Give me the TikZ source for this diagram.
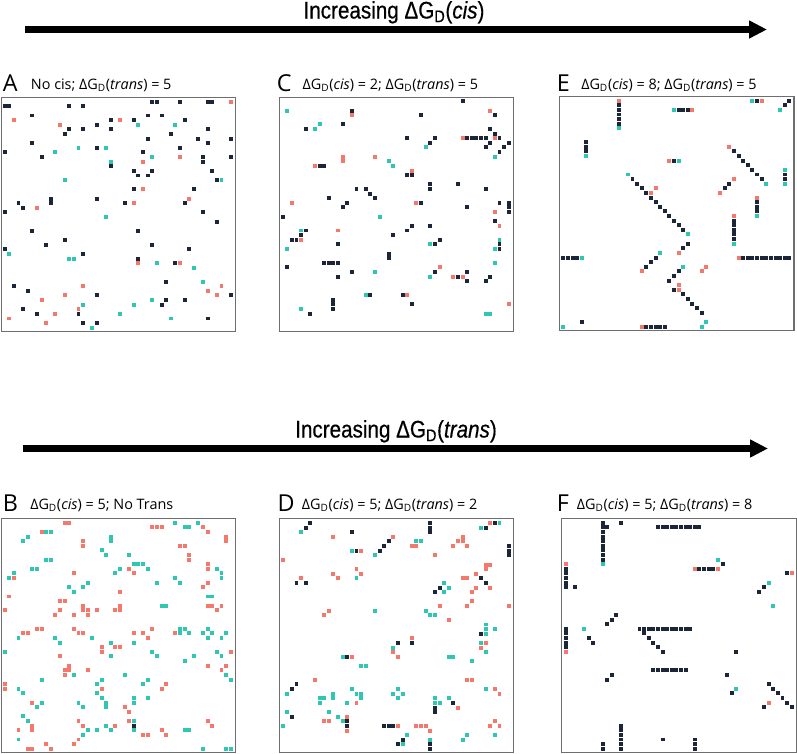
\documentclass[tikz,border=0pt]{standalone}
\usepackage{fontspec}
\setmainfont{Open Sans}
\newfontfamily\titlefont[FakeStretch=0.86,FakeBold=0.5]{Liberation Sans}
\usetikzlibrary{arrows.meta,positioning}

\definecolor{navy}{HTML}{1D2639}
\definecolor{salmon}{HTML}{F4796C}
\definecolor{aqua}{HTML}{2FC6B2}
\definecolor{frame}{HTML}{6E6E6E}

\newcommand{\dG}{ΔG\textsubscript{D}}
% one square per lattice site, list of col/row
\newcommand{\fillcells}[2]{\foreach \c/\r in {#2} \fill[#1] (\c-0.43,\r-0.43) rectangle ++(0.86,0.86);}

\begin{document}
\begin{tikzpicture}[x=0.75pt,y=-0.75pt,
		panletter/.style={inner sep=0pt, anchor=base west, font=\fontsize{17.5}{19}\selectfont},
		pantext/.style={inner sep=0pt, anchor=base west, font=\fontsize{10.8}{12}\selectfont},
		axistitle/.style={inner sep=0pt, anchor=base, font=\titlefont\fontsize{18}{20}\selectfont},
		bigarrow/.style={line width=4.9pt, -{Triangle[length=13.5pt,width=12.75pt]}},
		lattice/.style={x=3.46pt, y=-3.46pt},
		latbox/.style={draw=frame, line width=0.8pt}
	]
	\useasboundingbox (0,0) rectangle (797,754);

	% arrows
	\node[axistitle] (cistitle) at (394,18.5) {Increasing \dG(\textit{cis})};
	\coordinate (cisL) at (25,29.5);
	\coordinate (cisR) at (767,29.5);
	\draw[bigarrow] (cisL) -- (cisR);

	\node[axistitle] (transtitle) at (396,437.5) {Increasing \dG(\textit{trans})};
	\coordinate (transL) at (23,448.5);
	\coordinate (transR) at (768,448.5);
	\draw[bigarrow] (transL) -- (transR);

	% panel labels
	\node[panletter] (letA) at (2.7,91) {A};
	\node[pantext] (txtA) at (30.7,89.3) {No cis; \dG(\textit{trans}) = 5};
	\node[panletter] (letC) at (276.7,91) {C};
	\node[pantext] (txtC) at (302.3,89.3) {\dG(\textit{cis}) = 2; \dG(\textit{trans}) = 5};
	\node[panletter] (letE) at (556.5,91) {E};
	\node[pantext] (txtE) at (581,89.3) {\dG(\textit{cis}) = 8; \dG(\textit{trans}) = 5};
	\node[panletter] (letB) at (2.7,511.5) {B};
	\node[pantext] (txtB) at (30,509.8) {\dG(\textit{cis}) = 5; No Trans};
	\node[panletter] (letD) at (277.3,511.5) {D};
	\node[pantext] (txtD) at (301.7,509.8) {\dG(\textit{cis}) = 5; \dG(\textit{trans}) = 2};
	\node[panletter] (letF) at (556.7,511.5) {F};
	\node[pantext] (txtF) at (576.7,509.8) {\dG(\textit{cis}) = 5; \dG(\textit{trans}) = 8};

	% A
	\begin{scope}[shift={(4.67,101.67)}, lattice]
		\draw[latbox] (-0.7,-0.9) rectangle (50.05,49.9);
		\fillcells{navy}{32/0,33/0,38/0,44/0,45/0, 0/1,1/1,14/1,17/1, 6/3,31/3,34/3, 23/4,28/4,39/4, 20/5, 14/6,17/6,23/6,44/6, 13/7,36/7, 31/8,42/8,49/8, 6/9,44/9, 20/10,38/10, 0/11,30/11, 8/12,43/12,49/12, 43/13, 23/14, 28/15,32/15,45/15, 29/16,31/16, 46/17, 28/19,41/19, 10/21,20/21, 3/22,10/22,26/22,39/22, 4/23, 0/24,43/24, 46/26, 6/28,29/28, 13/30, 9/31,32/31, 0/32,40/32, 17/33, 29/34, 37/35, 35/39, 2/40, 5/41, 20/42,49/42, 35/43,39/43, 34/44, 4/45, 7/46,16/46, 44/47, 17/48,20/48}
		\fillcells{salmon}{49/0, 2/4,25/4, 12/5, 38/12, 30/13, 30/19, 40/21, 28/22, 7/23, 29/35,38/35, 17/40,47/40, 44/41, 13/42,46/42, 8/43, 16/45, 11/46, 1/47, 9/48}
		\fillcells{aqua}{29/5,37/5, 16/10,22/10, 11/11, 32/12, 23/13, 13/17,47/17, 22/25, 1/33, 14/34,15/34, 33/35, 41/36, 43/39, 32/43, 17/44,28/44, 25/46, 36/47, 19/49}
	\end{scope}

	% C
	\begin{scope}[shift={(282.67,101.33)}, lattice]
		\draw[latbox] (-0.7,-0.9) rectangle (50.05,49.9);
		\fillcells{navy}{39/0, 15/2, 30/3,46/3, 13/5, 5/6,45/6, 46/7, 27/8,33/8,40/8,41/8,42/8,43/8,44/8,47/8, 32/9,45/9,49/9, 44/10,48/10, 47/11, 8/14,9/14, 27/16,28/16, 32/18,38/18, 16/19,18/19,32/19,44/19, 19/20, 10/21,20/21, 14/22,30/22,47/22,49/22, 13/23,40/23,49/23, 49/24, 0/25, 46/26, 28/27,32/27, 5/28,27/28, 4/29,24/29, 2/30,3/30,34/30, 12/31,33/31,47/31, 47/32, 23/33, 23/34, 9/35,10/35,11/35,12/35, 1/36, 15/37,33/37,40/37, 12/38,38/38,45/38, 40/39,44/39, 19/42,26/42, 11/43, 11/44,28/44, 11/45, 6/46}
		\fillcells{salmon}{45/2, 15/3, 39/8,46/8, 13/12,20/12, 13/13, 7/14, 28/15, 2/22,29/22, 46/24, 47/27, 12/28, 4/30, 34/36, 37/38,39/38, 27/42, 49/44}
		\fillcells{aqua}{1/2, 8/5, 7/6, 31/10, 46/12, 23/13, 24/14, 21/25, 4/28, 47/30, 32/31, 1/32,46/32, 46/35, 20/37, 32/38, 18/42, 4/45, 44/46,45/46}
	\end{scope}

	% E
	\begin{scope}[shift={(563.3,100.67)}, lattice]
		\draw[latbox] (-0.9,-0.9) rectangle (50.0,49.9);
		\fillcells{navy}{42/0,49/0, 12/1,48/1, 12/2,25/2,26/2,27/2, 12/3,12/4,12/5, 5/9,5/10,5/11, 37/11, 38/12, 24/13,39/13, 40/14, 41/15, 42/16,48/16, 15/17,43/17,48/17, 16/18,36/18, 17/19,35/19, 18/20, 19/21, 20/22,42/22, 21/23,42/23, 22/24,42/24, 23/25, 24/26,37/26, 25/27,37/27, 26/28,37/28, 37/29, 37/30, 27/31, 26/32, 0/34,1/34,2/34,3/34,20/34, 39/34,40/34,41/34,42/34,43/34,44/34,45/34,46/34,47/34,48/34,49/34, 19/35, 18/36, 25/37, 24/38, 23/39, 24/41, 26/42, 27/43, 28/44, 29/45, 30/46, 4/48, 18/49,19/49,20/49,21/49,22/49}
		\fillcells{salmon}{12/0, 43/0, 28/2, 36/10, 23/13, 37/17, 20/19, 19/20, 34/20, 42/21, 37/25, 25/33, 38/34, 31/36, 17/37, 30/37, 25/40, 25/41, 17/49}
		\fillcells{aqua}{41/0, 24/2, 47/2, 12/6, 5/12, 25/13, 48/15, 14/16, 44/18, 48/18, 42/25, 27/29, 37/31, 21/33, 4/34, 26/36, 31/48, 0/49, 30/49}
	\end{scope}

	% B
	\begin{scope}[shift={(4.67,522.67)}, lattice]
		\draw[latbox] (-0.7,-0.9) rectangle (50.05,49.9);
		\fillcells{salmon}{13/0,14/0, 32/1,33/1,34/1,43/1, 8/2,44/2, 48/3, 17/4,48/4, 17/5,38/5,39/5, 40/7, 40/8, 44/9, 27/10,44/10, 15/11,28/11, 2/12, 44/13, 43/14, 25/15, 1/16, 12/17,13/17, 17/18,25/18,44/18,45/18,47/18, 0/19,12/19,17/19,18/19,20/19,24/19,25/19,46/19, 11/20,15/20,18/20, 7/23,8/23,15/23,32/23, 4/24,5/24,16/24,17/24,28/24,30/24,37/24, 31/25, 21/27,24/27,25/27, 21/28,49/28, 12/29, 14/31,44/31,48/31, 13/32,14/32,18/32,47/32, 13/33, 0/35,35/35, 0/36,21/36,34/36, 6/39, 26/40, 27/41, 16/43,27/43,44/43, 6/44,17/44,24/44,45/44, 3/45,6/45,34/45, 30/46,31/46,35/46, 16/47, 9/48,15/48, 5/49,6/49,10/49}
		\fillcells{aqua}{37/0,42/0, 39/1,40/1, 9/2,10/2, 5/3,23/3, 4/4,23/4, 21/6, 22/7,27/7, 9/8,10/8, 28/9,29/9,30/9, 6/10,7/10,25/10,31/10,46/10, 2/11,24/11,47/11, 1/12,37/12,47/12, 18/13,33/13,38/13, 14/14,17/14, 15/15, 44/16,45/16, 34/18,35/18, 38/23,39/23,44/23, 38/24,40/24,43/24,45/24,48/24, 3/25,11/25,19/25,44/25,47/25, 12/26,23/26,28/26, 0/28,32/28,46/28, 23/29,33/29,41/29,47/29, 39/30, 15/33,26/33,48/33, 8/34,21/34,31/34,49/34, 20/35,30/35, 3/36, 4/37,20/37, 21/38,28/38,31/38, 8/39,16/39,22/39,28/39, 7/40,17/40,22/40, 4/42, 5/43,28/43, 22/44, 18/45,20/45,23/45,28/45,39/45,40/45, 17/46, 3/47, 43/49,48/49,49/49}
		\fillcells{navy}{28/44}
	\end{scope}

	% D
	\begin{scope}[shift={(282.67,523)}, lattice]
		\draw[latbox] (-0.7,-0.9) rectangle (50.0,49.8);
		\fillcells{navy}{6/0,32/0,46/0, 5/1,32/1,44/1, 15/2,32/2, 23/4, 22/5,49/5, 16/6,21/6,49/6, 49/7, 43/12, 3/13,5/13,44/13, 34/14, 33/15, 43/24, 25/26,28/26, 14/29, 3/35, 2/36, 37/39, 33/40, 33/41, 2/42, 14/43, 14/44,22/44,23/44,24/44, 26/47, 25/48,32/48, 32/49}
		\fillcells{salmon}{45/0, 11/3,24/3,39/3, 38/4,39/4, 28/5,29/5,37/5,40/5, 17/6, 33/7, 0/8, 44/9,45/9, 16/10,44/10, 11/11,17/11,42/11, 4/12,12/12,39/12,40/12, 42/14,45/14, 41/15, 41/17, 34/18,40/18,49/18, 10/19, 9/20, 36/21, 28/25, 44/26, 43/27, 24/28, 15/29,25/29, 7/34,40/34,41/34, 46/36, 47/37, 16/39, 38/40, 14/42, 9/43,10/43,46/43, 25/44,29/44,30/44,31/44,45/44,47/44, 14/45,32/45}
		\fillcells{aqua}{47/0, 43/1, 4/2, 29/4,30/4, 15/6, 20/7, 16/12, 35/13, 36/14, 35/15, 20/19,31/19, 32/20,33/20, 44/22, 44/23,46/23, 44/24, 43/26, 24/27, 44/28, 13/29,36/29,37/29, 41/30, 17/31,18/31, 15/36,25/36,44/36, 1/37,11/37,16/37,17/37,24/37,26/37, 8/38,9/38,11/38,17/38,25/38,33/38,36/38, 8/39,14/39,33/39,34/39, 1/41,10/41, 12/42, 13/43, 0/44, 27/46,40/46,46/46, 32/47,39/47, 26/48}
	\end{scope}

	% F
	\begin{scope}[shift={(565.67,522.67)}, lattice]
		\draw[latbox] (-0.85,-0.9) rectangle (50.0,49.9);
		\fillcells{navy}{8/0,8/1,8/2,8/3,8/4,8/5,8/6,8/7,8/8, 9/1, 12/0, 20/1,21/1,22/1,23/1,24/1,25/1,26/1,27/1,28/1,29/1, 34/9, 29/10,30/10,31/10,32/10, 0/10,0/11,0/12,0/13,0/14, 48/11, 2/14,43/14, 42/15, 11/20, 10/21, 9/22, 0/23,0/24,0/25,0/26,0/27, 16/23,17/23,18/23,19/23,20/23,21/23,22/23,23/23,24/23,25/23,26/23,27/23, 17/24, 5/25,18/25, 6/26,19/26, 20/27, 21/28,37/28, 19/32,20/32,21/32,22/32,23/32,24/32,25/32,26/32, 10/33,35/33, 9/34, 44/35, 45/36, 36/37,46/37, 47/38, 48/39, 43/40,49/40, 12/44,12/45,12/46,12/47,12/48,12/49, 21/47, 28/47,28/48,28/49, 8/48,8/49}
		\fillcells{salmon}{0/9, 28/10, 33/10, 49/11, 0/28, 44/39}
		\fillcells{aqua}{33/8, 8/9, 44/13, 45/18, 4/23, 37/36}
	\end{scope}
\end{tikzpicture}
\end{document}
